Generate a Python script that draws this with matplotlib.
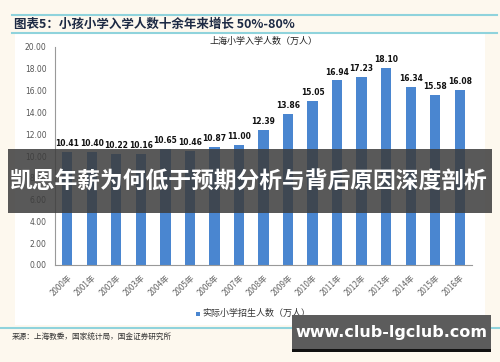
import matplotlib.pyplot as plt
from matplotlib.patches import Rectangle
from matplotlib.lines import Line2D

plt.rcParams['font.family'] = ['Noto Sans CJK SC', 'DejaVu Sans']

years = ["2000年", "2001年", "2002年", "2003年", "2004年", "2005年", "2006年", "2007年", "2008年",
         "2009年", "2010年", "2011年", "2012年", "2013年", "2014年", "2015年", "2016年"]
values = [10.41, 10.40, 10.22, 10.16, 10.65, 10.46, 10.87, 11.00, 12.39,
          13.86, 15.05, 16.94, 17.23, 18.10, 16.34, 15.58, 16.08]
yticks = [0, 2, 4, 6, 8, 10, 12, 14, 16, 18, 20]

W, H = 500, 362
fig = plt.figure(figsize=(5, 3.62), dpi=100)
fig.patch.set_facecolor('#fdf8ee')

def px(x, y):
    return x / W, 1 - y / H

# white panel
fig.add_artist(Rectangle(px(15, 325), 470 / W, 292 / H, transform=fig.transFigure,
                         facecolor='white', edgecolor='none', zorder=0))
# teal rules
for y, x0, x1 in [(15, 12, 497), (33, 12, 497), (328, 0, 500)]:
    fig.add_artist(Line2D([x0 / W, x1 / W], [1 - y / H, 1 - y / H], transform=fig.transFigure,
                          color='#8fd3dc', lw=1.5))

fig.text(14 / W, 1 - 24 / H, "图表5：小孩小学入学人数十余年来增长 50%-80%", fontsize=9,
         fontweight='bold', style='italic', color='#1d2a44', va='center')

ax = fig.add_axes([55 / W, 97 / H, 417 / W, 218 / H])
ax.set_facecolor('none')
x = list(range(len(years)))
bars = ax.bar(x, values, width=0.42, color='#4a86d0', zorder=2)
for xi, v in zip(x, values):
    ax.text(xi, v + 0.35, f"{v:.2f}", ha='center', va='bottom', fontsize=5.5,
            fontweight='bold', color='#111111', family='DejaVu Sans')
ax.set_xlim(-0.5, 16.5)
ax.set_ylim(0, 20)
ax.set_yticks(yticks)
ax.set_yticklabels([f"{t:.2f}" for t in yticks], fontsize=5.5, color='#555555', family='DejaVu Sans')
ax.set_xticks(x)
ax.set_xticklabels(years, rotation=45, ha='right', va='top', fontsize=5.8, color='#666666',
                   rotation_mode='anchor')
ax.tick_params(length=0, pad=6)
for s in ['top', 'right']:
    ax.spines[s].set_visible(False)
ax.spines['left'].set_color('#999999')
ax.spines['bottom'].set_color('#999999')
ax.set_title("上海小学入学人数（万人）", fontsize=6.5, color='#222222', pad=2)

# legend
fig.add_artist(Rectangle(px(196, 316), 4 / W, 4 / H, transform=fig.transFigure,
                         facecolor='#4a86d0', edgecolor='none'))
fig.text(202 / W, 1 - 313 / H, "实际小学招生人数（万人）", fontsize=6.5, color='#333333', va='center')

fig.text(12 / W, 1 - 338 / H, "来源：上海教委，国家统计局，国金证券研究所", fontsize=5.5,
         style='italic', color='#333333', va='center')

# overlay band
fig.add_artist(Rectangle(px(8, 213), 484 / W, 64 / H, transform=fig.transFigure,
                         facecolor='#3c3c3c', edgecolor='none', alpha=0.85, zorder=5))
fig.text(249 / W, 1 - 182 / H, "凯恩年薪为何低于预期分析与背后原因深度剖析", fontsize=16.4,
         fontweight='bold', color='white', ha='center', va='center', zorder=6)

# watermark box
fig.add_artist(Rectangle(px(292, 352), 199 / W, 37 / H, transform=fig.transFigure,
                         facecolor='#5c5c5c', edgecolor='none', zorder=5))
fig.add_artist(Rectangle(px(292, 352), 199 / W, 3 / H, transform=fig.transFigure,
                         facecolor='#111111', edgecolor='none', zorder=5))
fig.text(391 / W, 1 - 332 / H, "www.club-lgclub.com", fontsize=11.5, fontweight='bold',
         color='white', ha='center', va='center', zorder=6, family='DejaVu Sans')

fig.savefig('out.png', dpi=100)
